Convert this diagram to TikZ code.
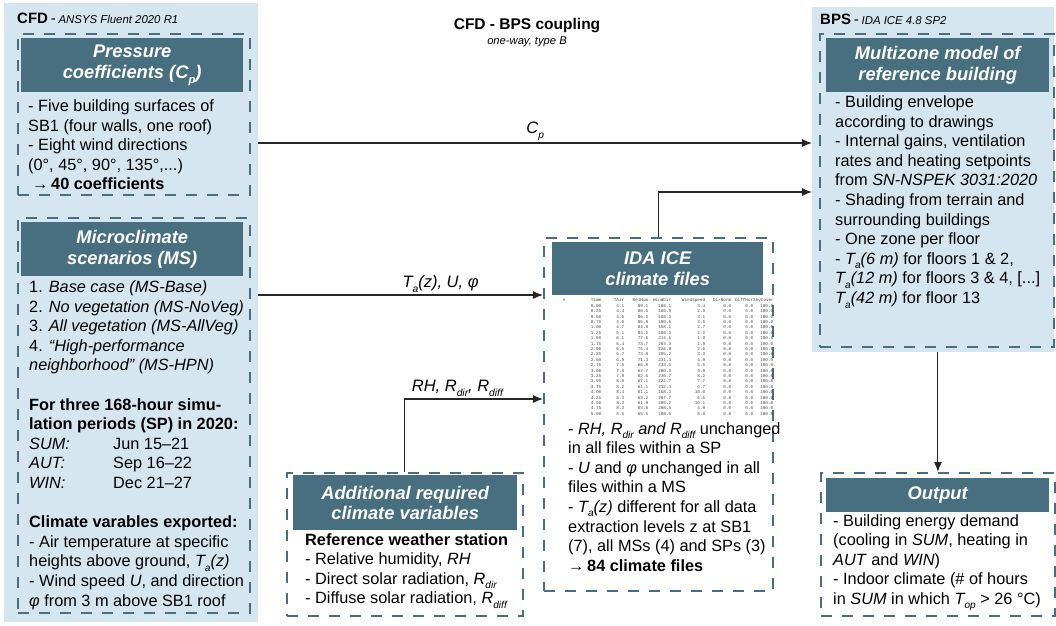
\documentclass[tikz,border=0pt]{standalone}
\usepackage{fontspec}
\setmainfont{Liberation Sans}
\setmonofont{Liberation Mono}
\usepackage{array}
\usetikzlibrary{arrows.meta}
\definecolor{panelblue}{RGB}{214,230,241}
\definecolor{headteal}{RGB}{72,111,127}
\newcommand\bodyfont{\fontsize{16.3}{19.6}\selectfont}
\newcommand\headfont{\bfseries\itshape\fontsize{18.3}{20.5}\selectfont}
\newcommand\tagfont{\itshape\fontsize{11.4}{13}\selectfont}
\newcommand\toolfont{\bfseries\fontsize{15}{18}\selectfont}
\newcommand\lo[1]{\raisebox{-0.28em}{\scalebox{0.62}{#1}}}
\newcolumntype{R}[1]{>{\raggedleft\arraybackslash}p{#1pt}}
\newcommand\crow[5]{& #1 & #2 & #3 & #4 & #5 & 0.0 & 0.0 & 100.0\\}

\begin{document}
\begin{tikzpicture}[x=1pt,y=-1pt]
  \tikzset{
    panel/.style={fill=panelblue, draw=none, inner sep=0, anchor=north west},
    dbox/.style={draw=headteal, dash pattern=on 11pt off 10pt, line width=1.8pt, inner sep=0, anchor=north west},
    head/.style={fill=headteal, text=white, font=\headfont, align=center, inner sep=0, anchor=north west},
    body/.style={font=\bodyfont, align=left, inner sep=0, anchor=north west},
    flow/.style={-{Latex[length=10pt,width=8pt]}, line width=1.1pt, draw=black!85},
    flowlabel/.style={font=\itshape\fontsize{16.5}{18}\selectfont, inner sep=2pt}
  }
  \useasboundingbox (0,0) rectangle (1056,625);

  \node[panel, minimum width=254pt, minimum height=619pt] (cfd) at (4,3) {};
  \node[panel, minimum width=242pt, minimum height=345pt] (bps) at (812,7) {};

  \node[anchor=west, inner sep=0] (cfdtag) at (17,18) {{\toolfont CFD} {\fontsize{15}{18}\selectfont -} {\tagfont ANSYS Fluent 2020 R1}};
  \node[anchor=west, inner sep=0] (bpstag) at (820,19) {{\toolfont BPS} {\fontsize{15}{18}\selectfont -} {\tagfont IDA ICE 4.8 SP2}};
  \node[font=\bfseries\fontsize{15.5}{18}\selectfont] (title) at (527,26) {CFD - BPS coupling};
  \node[font=\itshape\fontsize{11.2}{13}\selectfont] (subtitle) at (527,42) {one-way, type B};

  \node[dbox, minimum width=232pt, minimum height=161pt] (cpbox) at (17,33) {};
  \node[head, minimum width=222pt, minimum height=54pt] (cphead) at (21,38) {Pressure\\coefficients (C\lo{p})};
  \node[body] (cptext) at (28,99.5) {- Five building surfaces of\\
    SB1 (four walls, one roof)\\
    - Eight wind directions\\
    (0°, 45°, 90°, 135°,...)\\
    \hspace*{4pt}→\,\textbf{40 coefficients}};

  \node[dbox, minimum width=232pt, minimum height=395pt] (msbox) at (17,217) {};
  \node[head, minimum width=222pt, minimum height=54pt] (mshead) at (21,222) {Microclimate\\scenarios (MS)};
  \node[body] (mstext) at (29,280.5) {1. \textit{Base case (MS-Base)}\\
    2. \textit{No vegetation (MS-NoVeg)}\\
    3. \textit{All vegetation (MS-AllVeg)}\\
    4. \textit{“High-performance}\\
    \textit{neighborhood” (MS-HPN)}\\[19.6pt]
    \textbf{For three 168-hour simu-}\\
    \textbf{lation periods (SP) in 2020:}\\
    \makebox[84pt][l]{\textit{SUM:}}Jun 15–21\\
    \makebox[84pt][l]{\textit{AUT:}}Sep 16–22\\
    \makebox[84pt][l]{\textit{WIN:}}Dec 21–27\\[19.6pt]
    \textbf{Climate varables exported:}\\
    - Air temperature at specific\\
    heights above ground, \textit{T\lo{a}(z)}\\
    - Wind speed \textit{U}, and direction\\
    \textit{φ} from 3 m above SB1 roof};

  \node[dbox, minimum width=234pt, minimum height=313pt] (bpsbox) at (819,33) {};
  \node[head, minimum width=223pt, minimum height=54pt] (bpshead) at (826,38) {Multizone model of\\reference building};
  \node[body] (bpstext) at (835,95.5) {- Building envelope\\
    according to drawings\\
    - Internal gains, ventilation\\
    rates and heating setpoints\\
    from \textit{SN-NSPEK 3031:2020}\\
    - Shading from terrain and\\
    surrounding buildings\\
    - One zone per floor\\
    - \textit{T\lo{a}(6 m)} for floors 1 \& 2,\\
    \textit{T\lo{a}(12 m)} for floors 3 \& 4, [...]\\
    \textit{T\lo{a}(42 m)} for floor 13};

  \node[dbox, minimum width=229pt, minimum height=353pt] (climbox) at (543,237) {};
  \node[head, minimum width=211pt, minimum height=53pt] (climhead) at (552,242) {IDA ICE\\climate files};
  \node[anchor=north west, inner sep=0, text=black!75] (cftable) at (563,298) {\ttfamily\fontsize{4.3}{5.4}\selectfont\setlength\tabcolsep{0pt}%
    \begin{tabular}{@{}p{27pt}R{11}R{23}R{24}R{23}R{34}R{26}R{22}R{20}@{}}
    \# & Time & TAir & RelHum & WindDir & WindSpeed & DirNorm & DiffHor & SkyCover\\
    \crow{0.00}{4.1}{89.1}{188.1}{3.4}
    \crow{0.25}{4.4}{88.5}{166.9}{2.9}
    \crow{0.50}{4.6}{86.3}{168.3}{3.1}
    \crow{0.75}{4.6}{85.8}{180.5}{3.5}
    \crow{1.00}{4.7}{84.8}{158.1}{2.7}
    \crow{1.25}{5.1}{83.2}{188.3}{2.2}
    \crow{1.50}{6.1}{77.6}{214.5}{1.9}
    \crow{1.75}{6.4}{73.7}{203.3}{1.9}
    \crow{2.00}{6.5}{75.4}{226.9}{2.6}
    \crow{2.25}{6.7}{73.8}{205.2}{3.3}
    \crow{2.50}{6.9}{71.3}{231.3}{4.9}
    \crow{2.75}{7.5}{66.8}{233.5}{5.5}
    \crow{3.00}{7.8}{62.7}{200.3}{9.9}
    \crow{3.25}{7.9}{62.5}{236.7}{8.2}
    \crow{3.50}{8.0}{67.1}{222.7}{7.7}
    \crow{3.75}{8.2}{61.1}{232.3}{6.7}
    \crow{4.00}{8.4}{61.1}{168.3}{10.0}
    \crow{4.25}{8.3}{63.2}{207.7}{6.6}
    \crow{4.50}{8.3}{61.9}{205.2}{10.1}
    \crow{4.75}{8.3}{63.8}{208.5}{4.9}
    \crow{5.00}{8.5}{65.5}{198.5}{8.8}
    \end{tabular}};
  \node[body] (climtext) at (568,422) {- \textit{RH, R\lo{dir} and R\lo{diff}} unchanged\\
    in all files within a SP\\
    - \textit{U} and \textit{φ} unchanged in all\\
    files within a MS\\
    - \textit{T\lo{a}(z)} different for all data\\
    extraction levels z at SB1\\
    (7), all MSs (4) and SPs (3)\\
    →\,\textbf{84 climate files}};

  \node[dbox, minimum width=236pt, minimum height=143pt] (addbox) at (286,472) {};
  \node[head, minimum width=224pt, minimum height=55pt] (addhead) at (293,475) {Additional required\\climate variables};
  \node[body] (addtext) at (305,533) {\textbf{Reference weather station}\\
    - Relative humidity, \textit{RH}\\
    - Direct solar radiation, \textit{R\lo{dir}}\\
    - Diffuse solar radiation, \textit{R\lo{diff}}};

  \node[dbox, minimum width=234pt, minimum height=143pt] (outbox) at (820,472) {};
  \node[head, minimum width=223pt, minimum height=34pt] (outhead) at (826,478) {Output};
  \node[body] (outtext) at (833,514) {- Building energy demand\\
    (cooling in \textit{SUM}, heating in\\
    \textit{AUT} and \textit{WIN})\\
    - Indoor climate (\# of hours\\
    in \textit{SUM} in which \textit{T\lo{op}} > 26 °C)};

  \draw[flow] (cfd.east |- 0,143) -- node[flowlabel, above, pos=0.5] {C\lo{p}} (bps.west |- 0,143);
  \draw[flow] (cfd.east |- 0,295) -- node[flowlabel, above, pos=0.64] {T\lo{a}(z), U, φ} (climbox.west |- 0,295);
  \draw[flow] (addbox.north) |- node[flowlabel, above, pos=0.69] {RH, R\lo{dir}, R\lo{diff}} (climbox.west |- 0,399);
  \draw[flow] (climbox.north) |- (bps.west |- 0,192);
  \draw[flow] (outbox.north |- bps.south) -- (outbox.north);
\end{tikzpicture}
\end{document}
